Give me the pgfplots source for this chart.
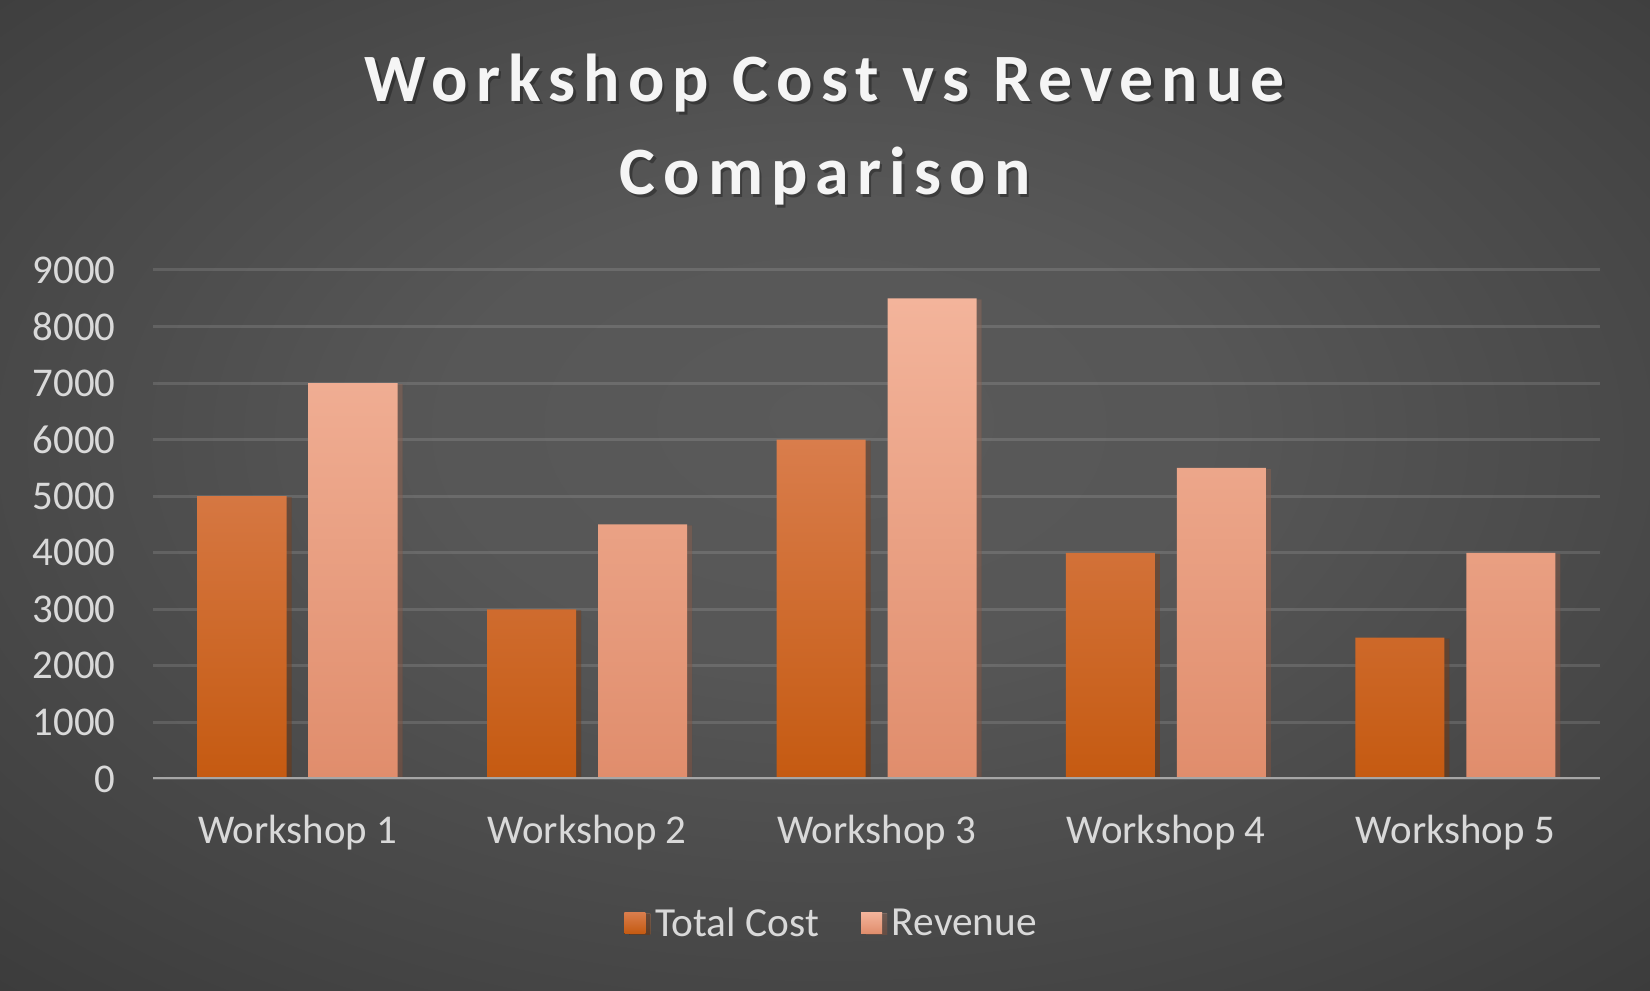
\documentclass[border=0pt]{standalone}
\usepackage{pgfplots}
\pgfplotsset{compat=1.18}
\usepackage{fontspec}
\setmainfont{Carlito}
\newfontfamily\titlefont[LetterSpace=12]{Carlito Bold}

\definecolor{bgin}{HTML}{5A5A5A}
\definecolor{bgmid}{HTML}{2E2E2E}
\definecolor{bgout}{HTML}{202020}
\definecolor{txt}{HTML}{D9D9D9}
\definecolor{costtop}{HTML}{D97D4C}
\definecolor{costmid}{HTML}{D86B24}
\definecolor{costbot}{HTML}{C55A11}
\definecolor{revtop}{HTML}{F3B49B}
\definecolor{revmid}{HTML}{F5A886}
\definecolor{revbot}{HTML}{E08D6C}

\pgfdeclareradialshading{bgshade}{\pgfpoint{0bp}{4bp}}{%
  color(0bp)=(bgin); color(12bp)=(bgin!92!bgmid); color(50bp)=(bgmid); color(71bp)=(bgout)}

\begin{document}
\begin{tikzpicture}[x=1bp,y=1bp]
\useasboundingbox (0,0) rectangle (1650,990);
\begin{scope}
\clip (0,0) rectangle (1650,990);
\shade[shading=bgshade] (0,0) rectangle (1650,990);
\end{scope}

% title with soft shadow
\foreach \txt/\yy in {Workshop Cost vs Revenue/888, Comparison/795}{
  \node[text=black, opacity=0.3, font=\titlefont\fontsize{68}{93}\selectfont, anchor=base]
    at (827.5,\yy-2.5) {\txt};
  \node[text=white!96!black, font=\titlefont\fontsize{68}{93}\selectfont, anchor=base]
    at (825,\yy) {\txt};
}

\begin{axis}[
    at={(153bp,211bp)}, anchor=south west,
    scale only axis,
    width=1447bp, height=509bp,
    xmin=-0.5, xmax=4.5,
    ymin=0, ymax=9000,
    ytick={0,1000,...,9000},
    xtick={0,1,2,3,4},
    xticklabels={Workshop 1,Workshop 2,Workshop 3,Workshop 4,Workshop 5},
    major tick length=0pt,
    axis line style={draw=none},
    ymajorgrids,
    major grid style={color=white, opacity=0.12, line width=3bp},
    ticklabel style={text=txt, font=\fontsize{41}{48}\selectfont},
    yticklabel style={xshift=-34bp},
    xticklabel style={yshift=-33bp},
    /pgf/number format/assume math mode=true,
    /pgf/number format/set thousands separator={},
    ybar=22bp, bar width=89bp,
    legend columns=2,
    legend style={at={(0.469,-0.283)}, anchor=center, draw=none, fill=none,
      text=txt, font=\fontsize{41.5}{48}\selectfont,
      /tikz/every odd column/.append style={column sep=8bp},
      /tikz/every even column/.append style={column sep=40bp}},
    legend image code/.code={\fill[#1] (0bp,-10.5bp) rectangle (21bp,10.5bp);},
    barshadow/.style={preaction={fill=black, fill opacity=0.3, draw=none,
      transform canvas={xshift=5bp, yshift=-1bp}}},
]
\addplot[draw=none, barshadow, top color=costtop, middle color=costmid, bottom color=costbot] coordinates {
    (0,5000) (1,3000) (2,6000) (3,4000) (4,2500)
};
\addlegendentry{Total Cost}
\addplot[draw=none, barshadow, top color=revtop, middle color=revmid, bottom color=revbot] coordinates {
    (0,7000) (1,4500) (2,8500) (3,5500) (4,4000)
};
\addlegendentry{Revenue}
\draw[color=black!35!white, line width=3.5bp] (axis cs:-0.5,0) -- (axis cs:4.5,0);
\end{axis}
\end{tikzpicture}
\end{document}
